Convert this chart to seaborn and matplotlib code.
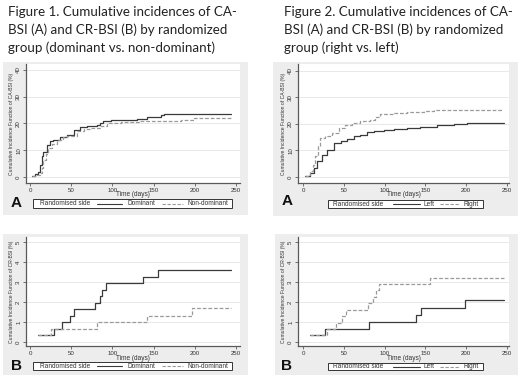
import matplotlib
matplotlib.use("Agg")
import matplotlib.pyplot as plt
from matplotlib.patches import Rectangle
from matplotlib.lines import Line2D
import seaborn as sns
import pandas as pd

sns.set_theme(style="white")
plt.rcParams['font.family'] = ['Liberation Sans', 'DejaVu Sans']

# ---------------- data ----------------
t1a_dom = [2, 6, 10, 12, 14, 16, 20, 24, 28, 36, 45, 53, 61, 69, 81, 85, 89, 98, 130, 142, 159, 163, 244]
y1a_dom = [0.3, 1.0, 2.0, 4.5, 7.7, 9.5, 12.0, 13.3, 14.0, 15.0, 15.8, 17.4, 18.6, 19.1, 19.4, 20.1, 21.1, 21.4, 21.7, 22.4, 23.1, 23.4, 23.4]
t1a_non = [2, 8, 12, 14, 16, 19, 22, 27, 33, 40, 45, 57, 65, 73, 85, 93, 110, 134, 159, 183, 199, 244]
y1a_non = [0.3, 0.8, 1.5, 3.5, 6.5, 8.5, 10.8, 12.5, 14.0, 14.8, 15.4, 17.0, 17.8, 18.3, 19.1, 20.1, 20.7, 21.1, 21.1, 21.4, 22.0, 22.0]

t1b_dom = [10, 29, 39, 49, 53, 79, 85, 87, 92, 137, 155, 244]
y1b_dom = [0.33, 0.65, 0.98, 1.3, 1.63, 1.95, 2.28, 2.6, 2.93, 3.26, 3.58, 3.58]
t1b_non = [10, 26, 81, 142, 197, 244]
y1b_non = [0.33, 0.65, 0.98, 1.3, 1.68, 1.68]

t2a_left = [3, 9, 13, 17, 23, 29, 38, 46, 54, 62, 70, 78, 87, 99, 111, 127, 144, 164, 185, 201, 246]
y2a_left = [0.3, 1.5, 3.4, 5.9, 8.4, 10.3, 12.8, 13.6, 14.4, 15.3, 15.9, 16.8, 17.4, 17.8, 18.1, 18.4, 19.0, 19.5, 19.9, 20.2, 20.2]
t2a_right = [3, 9, 12, 15, 18, 21, 27, 36, 44, 52, 60, 70, 82, 88, 95, 111, 127, 148, 160, 245]
y2a_right = [0.5, 2.1, 4.5, 7.8, 11.5, 14.6, 15.5, 16.5, 18.4, 19.6, 20.5, 21.3, 21.5, 22.8, 23.6, 24.0, 24.4, 24.9, 25.3, 25.3]

t2b_left = [9, 27, 81, 138, 145, 198, 246]
y2b_left = [0.33, 0.65, 1.0, 1.33, 1.72, 2.08, 2.08]
t2b_right = [9, 29, 40, 48, 53, 80, 86, 89, 93, 156, 246]
y2b_right = [0.33, 0.65, 0.97, 1.29, 1.6, 1.94, 2.26, 2.58, 2.9, 3.22, 3.22]

x_ticks = [0, 50, 100, 150, 200, 250]
ya_ticks = [0, 10, 20, 30, 40]
yb_ticks = [0, 1, 2, 3, 4, 5]

title1 = ["Figure 1. Cumulative incidences of CA-",
          "BSI (A) and CR-BSI (B) by randomized",
          "group (dominant vs. non-dominant)"]
title2 = ["Figure 2. Cumulative incidences of CA-",
          "BSI (A) and CR-BSI (B) by randomized",
          "group (right vs. left)"]

W, H = 520, 379
fig = plt.figure(figsize=(W / 100, H / 100), dpi=100)
fig.patch.set_facecolor("white")

GRAY = "#ededed"
SOLID = "#3a3a3a"
DASH = "#9a9a9a"
AXC = "#5a5a5a"


def fx(px):
    return px / W


def fy(py):
    return 1 - py / H


def frame(x0, y0, x1, y1):
    fig.patches.append(Rectangle((fx(x0), fy(y1)), fx(x1 - x0), (y1 - y0) / H,
                                 transform=fig.transFigure, facecolor=GRAY,
                                 edgecolor="none", zorder=-5))


def panel(rect, xlim, ylim, yticks, series, ylabel, legend_box, keys, letter_xy, letter):
    l, t, r, b = rect
    ax = fig.add_axes([fx(l), fy(b), fx(r - l), (b - t) / H])
    ax.set_zorder(1)
    ax.set_facecolor("white")
    for (tt, yy, col, ls) in series:
        df = pd.DataFrame({"time": tt, "cif": yy})
        sns.lineplot(data=df, x="time", y="cif", ax=ax, color=col, linestyle=ls,
                     drawstyle="steps-post", linewidth=0.9, estimator=None, sort=False)
    ax.set_xlim(*xlim)
    ax.set_ylim(*ylim)
    ax.set_xticks(x_ticks)
    ax.set_yticks(yticks)
    ax.grid(axis="y", color="#e4e4e4", linewidth=0.6)
    ax.set_axisbelow(True)
    for s in ["top", "right"]:
        ax.spines[s].set_visible(False)
    for s in ["left", "bottom"]:
        ax.spines[s].set_color(AXC)
        ax.spines[s].set_linewidth(0.9)
    ax.tick_params(axis="both", which="both", length=2, width=0.6, color=AXC,
                   labelsize=4.4, labelcolor="#333333", pad=1.5, direction="out",
                   left=True, bottom=True)
    for lab in ax.get_yticklabels():
        lab.set_rotation(90)
        lab.set_va("center")
    ax.set_xlabel("Time (days)", fontsize=4.7, color="#333333")
    ax.xaxis.set_label_coords(0.5, -8.5 / (b - t))
    ax.set_ylabel(ylabel, fontsize=3.6, color="#333333")
    ax.yaxis.set_label_coords(-0.056, 0.5)
    # legend box
    bx0, by0, bx1, by1 = legend_box
    fig.patches.append(Rectangle((fx(bx0), fy(by1)), fx(bx1 - bx0), (by1 - by0) / H,
                                 transform=fig.transFigure, facecolor="white",
                                 edgecolor="#333333", linewidth=0.7, zorder=2))
    yc = fy((by0 + by1) / 2)
    for kind, a, bb, txt in keys:
        if kind == "text":
            fig.text(fx(a), yc, txt, fontsize=4.7, color="#333333", va="center", ha="left", zorder=3)
        else:
            fig.add_artist(Line2D([fx(a), fx(bb)], [yc, yc], transform=fig.transFigure,
                                  color=SOLID if kind == "solid" else DASH,
                                  linestyle="-" if kind == "solid" else (0, (3, 1.5)),
                                  linewidth=0.8, zorder=3))
    fig.text(fx(letter_xy[0]), fy(letter_xy[1]), letter, fontsize=11, fontweight="bold",
             color="#111111", ha="center", va="center")
    return ax


# gray graph regions
frame(3, 62, 248, 215)
frame(3, 234, 248, 375)
frame(273, 62, 518, 216)
frame(275, 234, 518, 375)

ylab_a = "Cumulative Incidence Function of CA-BSI (%)"
ylab_b = "Cumulative Incidence Function of CR-BSI (%)"

keys1 = [("text", 40, None, "Randomised side"), ("solid", 97, 122, None),
         ("text", 127, None, "Dominant"), ("dash", 162, 183, None),
         ("text", 187, None, "Non-dominant")]
keys2 = [("text", 333, None, "Randomised side"), ("solid", 393, 420, None),
         ("text", 423, None, "Left"), ("dash", 440, 460, None),
         ("text", 463, None, "Right")]

panel((26, 64, 240, 183), (-4.9, 254.9), (-2.24, 42.2), ya_ticks,
      [(t1a_dom, y1a_dom, SOLID, "-"), (t1a_non, y1a_non, DASH, (0, (3, 1.5)))],
      ylab_a, (33, 199, 232, 208), keys1, (16, 203), "A")
panel((26, 237, 240, 346), (-4.9, 254.9), (-0.2, 5.25), yb_ticks,
      [(t1b_dom, y1b_dom, SOLID, "-"), (t1b_non, y1b_non, DASH, (0, (3, 1.5)))],
      ylab_b, (33, 362, 232, 370), keys1, (16, 366), "B")
panel((298, 64, 509, 183), (-6.1, 252.5), (-2.26, 42.6), ya_ticks,
      [(t2a_left, y2a_left, SOLID, "-"), (t2a_right, y2a_right, DASH, (0, (3, 1.5)))],
      ylab_a, (328, 200, 483, 208), keys2, (287, 201), "A")
panel((298, 237, 509, 346), (-6.1, 252.5), (-0.2, 5.25), yb_ticks,
      [(t2b_left, y2b_left, SOLID, "-"), (t2b_right, y2b_right, DASH, (0, (3, 1.5)))],
      ylab_b, (328, 363, 483, 370), keys2, (287, 366), "B")

for i, line in enumerate(title1):
    fig.text(fx(8), fy(12 + i * 17.8), line, fontsize=9.6, family=["Lato", "DejaVu Sans"],
             color="#222222", ha="left", va="center")
for i, line in enumerate(title2):
    fig.text(fx(284), fy(12 + i * 17.8), line, fontsize=9.6, family=["Lato", "DejaVu Sans"],
             color="#222222", ha="left", va="center")

fig.savefig("out.png", dpi=100, facecolor="white")
